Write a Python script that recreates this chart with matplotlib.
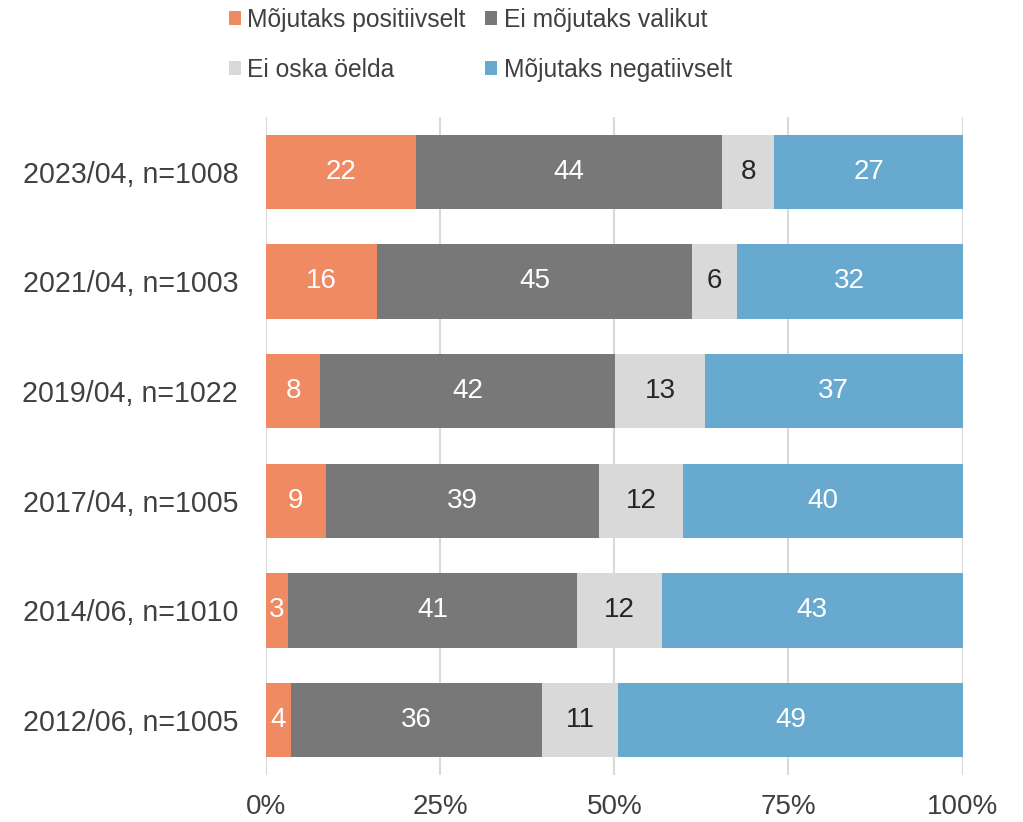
import matplotlib
matplotlib.use("Agg")
import matplotlib.pyplot as plt
import numpy as np

plt.rcParams['font.family'] = ['Liberation Sans', 'DejaVu Sans']

categories = ["2023/04, n=1008", "2021/04, n=1003", "2019/04, n=1022",
              "2017/04, n=1005", "2014/06, n=1010", "2012/06, n=1005"]
series_names = ["Mõjutaks positiivselt", "Ei mõjutaks valikut",
                "Ei oska öelda", "Mõjutaks negatiivselt"]
positive = [21.6, 15.9, 7.8, 8.6, 3.2, 3.6]
no_effect = [43.8, 45.3, 42.3, 39.2, 41.4, 36.0]
dont_know = [7.6, 6.4, 12.9, 12.1, 12.2, 11.0]
negative = [27.0, 32.4, 37.0, 40.1, 43.2, 49.4]
xticks = [0, 25, 50, 75, 100]
xtick_labels = ["0%", "25%", "50%", "75%", "100%"]

colors = ["#EF8A62", "#787878", "#D9D9D9", "#67A9CF"]
label_colors = ["white", "white", "#262626", "white"]

fig = plt.figure(figsize=(10.23, 8.22), dpi=100)
ax = fig.add_axes([0.26, 0.0572, 0.6809, 0.8005])

y = np.arange(len(categories))[::-1]
left = np.zeros(len(categories))
series = [positive, no_effect, dont_know, negative]
handles = []
for name, vals, c, lc in zip(series_names, series, colors, label_colors):
    vals = np.array(vals)
    bars = ax.barh(y, vals, left=left, height=0.68, color=c, label=name,
                   edgecolor='none', zorder=3)
    handles.append(bars)
    ax.bar_label(bars, labels=[f"{round(v):d}" for v in vals], label_type='center',
                 color=lc, fontsize=20)
    left += vals

ax.set_xlim(0, 100)
ax.set_ylim(-0.5, len(categories) - 0.5)
ax.set_yticks(y)
ax.set_yticklabels(categories, fontsize=20.6, color="#404040")
ax.set_xticks(xticks)
ax.set_xticklabels(xtick_labels, fontsize=20, color="#404040")
ax.tick_params(axis='y', length=0, pad=20)
ax.tick_params(axis='x', length=0, pad=14)
ax.grid(axis='x', color="#D9D9D9", linewidth=1.5, zorder=0)
for s in ax.spines.values():
    s.set_visible(False)

# row-major legend order: (pos, no effect) / (don't know, neg)
order = [0, 2, 1, 3]
fig.legend([handles[i] for i in order], [series_names[i] for i in order],
           loc='upper left', bbox_to_anchor=(229/1023, 1 - 8/822), ncol=2,
           frameon=False, fontsize=17.7, labelcolor="#404040",
           handlelength=0.47, handleheight=0.47, handletextpad=0.27,
           columnspacing=0.8, labelspacing=1.04, borderpad=0, borderaxespad=0)

fig.savefig("out.png", dpi=100)
